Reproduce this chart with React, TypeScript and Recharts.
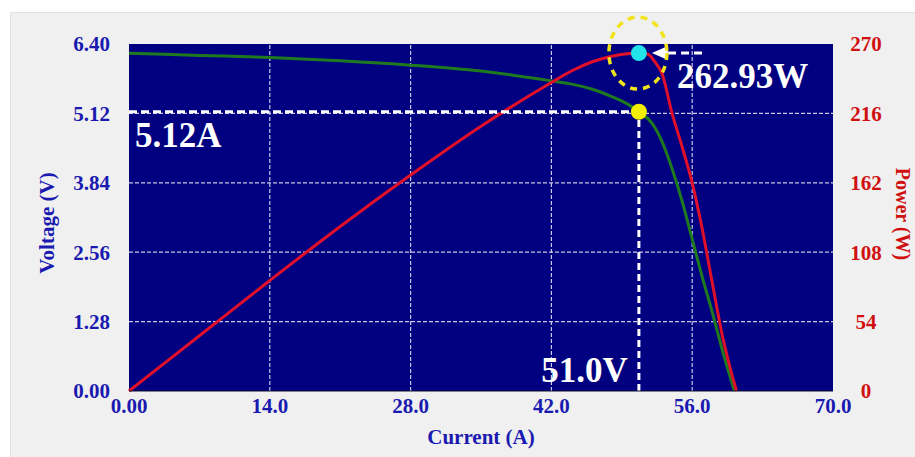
import React from "react";
import { LineChart, Line, XAxis, YAxis, CartesianGrid, ReferenceLine, ReferenceDot, Label } from "recharts";

// I-V curve (green)
const currentV = [0, 7, 14, 21, 28, 35, 42, 44, 46, 48, 49.5, 50.7, 52, 53, 54, 55, 56, 57, 58, 59, 60.2];
const voltage = [6.23, 6.19, 6.15, 6.09, 6.01, 5.9, 5.72, 5.66, 5.57, 5.43, 5.3, 5.15, 4.94, 4.6, 4.1, 3.5, 2.8, 2.1, 1.45, 0.75, 0];

// P-V curve (red)
const currentP = [0, 7, 14, 21, 28, 35, 42, 44, 46, 48, 49.5, 50.7, 51.6, 52.3, 53, 54, 55, 56, 57, 58, 59, 60.4];
const power = [0, 43, 86, 128, 168, 206, 240, 249, 256, 260.5, 262.4, 262.93, 262, 256, 247, 216, 190, 162, 126, 84, 43, 0];

const currentTicks = [0, 14, 28, 42, 56, 70];
const currentTickLabels = ["0.00", "14.0", "28.0", "42.0", "56.0", "70.0"];
const voltageTicks = [0, 1.28, 2.56, 3.84, 5.12, 6.4];
const voltageTickLabels = ["0.00", "1.28", "2.56", "3.84", "5.12", "6.40"];
const powerTicks = [0, 54, 108, 162, 216, 270];

const mppCurrent = 50.7;
const mppVoltage = 5.15;
const mppPower = 262.93;
const arrowTail = [53.6, 57.4];

const ivData = currentV.map((x, i) => ({ x, v: voltage[i] }));
const pvData = currentP.map((x, i) => ({ x, p: power[i] }));

const FONT = "'Liberation Serif', 'Times New Roman', serif";
const BLUE = "#1a1ab0";
const RED = "#d01010";
const NAVY = "#000080";
const GRID = "#c8c8e6";

const tickStyle = (fill: string) => ({ fill, fontSize: 21, fontWeight: 700, fontFamily: FONT });

function PowerTick(props: any) {
  const { x, y, payload } = props;
  return (
    <text x={x + 33} y={y} dy="0.355em" textAnchor="middle" fill={RED} fontSize={21} fontWeight={700} fontFamily={FONT}>
      {payload.value}
    </text>
  );
}

function BigText(text: string, dx: number, dy: number, anchor: string) {
  return (props: any) => (
    <text
      x={props.cx + dx}
      y={props.cy + dy}
      textAnchor={anchor}
      fill="#ffffff"
      fontSize={35}
      fontWeight={700}
      fontFamily={FONT}
    >
      {text}
    </text>
  );
}

function MppMarker(props: any) {
  const { cx, cy } = props;
  return (
    <g>
      <polygon points={`${cx + 13},${cy} ${cx + 29},${cy - 7} ${cx + 29},${cy + 7}`} fill="#ffffff" />
      <circle cx={cx} cy={cy} r={8} fill="#22e2ea" />
      <ellipse cx={cx - 1} cy={cy} rx={29} ry={36} fill="none" stroke="#f2e41c" strokeWidth={3.5} strokeDasharray="7 6" />
    </g>
  );
}

function YellowDot(props: any) {
  return <circle cx={props.cx} cy={props.cy} r={8} fill="#f2f000" />;
}

function AxisTitle(text: string, color: string, dx: number, dy: number, angle: number, size = 21) {
  return (props: any) => {
    const vb = props.viewBox;
    const x = vb.x + dx;
    const y = vb.y + dy;
    return (
      <text
        x={x}
        y={y}
        transform={`rotate(${angle} ${x} ${y})`}
        textAnchor="middle"
        dominantBaseline="central"
        fill={color}
        fontSize={size}
        fontWeight={700}
        fontFamily={FONT}
      >
        {text}
      </text>
    );
  };
}

export default function App() {
  return (
    <div style={{ position: "absolute", left: 0, top: 0, width: 915, height: 457, background: "#ffffff", overflow: "hidden" }}>
      <div
        style={{
          position: "absolute",
          left: 10,
          top: 12,
          right: 0,
          bottom: 0,
          background: "#f0f0f0",
          borderTop: "1px solid #e2e2e2",
          borderLeft: "1px solid #e2e2e2",
        }}
      />
      <div style={{ position: "absolute", left: 0, top: 0 }}>
        <LineChart width={915} height={457} margin={{ top: 44, right: 0, bottom: 6, left: 20 }}>
          <CartesianGrid fill={NAVY} horizontal={false} vertical={false} stroke="none" />
          <XAxis
            dataKey="x"
            type="number"
            domain={[0, 70]}
            ticks={currentTicks}
            tickFormatter={(v: number, i: number) => currentTickLabels[i]}
            interval={0}
            height={60}
            tickLine={false}
            tickSize={0}
            tickMargin={7}
            axisLine={{ stroke: "#101030" }}
            tick={tickStyle(BLUE)}
            allowDuplicatedCategory={false}
          >
            <Label content={AxisTitle("Current (A)", BLUE, 352, 46, 0)} />
          </XAxis>
          <YAxis
            yAxisId="v"
            type="number"
            domain={[0, 6.4]}
            ticks={voltageTicks}
            tickFormatter={(v: number, i: number) => voltageTickLabels[i]}
            interval={0}
            width={109}
            tickLine={false}
            tickSize={0}
            tickMargin={19}
            axisLine={false}
            tick={tickStyle(BLUE)}
          >
            <Label content={AxisTitle("Voltage (V)", BLUE, 27, 179, -90)} />
          </YAxis>
          <YAxis
            yAxisId="p"
            orientation="right"
            type="number"
            domain={[0, 270]}
            ticks={powerTicks}
            interval={0}
            width={82}
            tickLine={false}
            tickSize={0}
            tickMargin={0}
            axisLine={false}
            tick={PowerTick}
          >
            <Label content={AxisTitle("Power (W)", RED, 70, 170, 90, 20)} />
          </YAxis>

          {currentTicks.slice(1, -1).map((t) => (
            <ReferenceLine key={"gx" + t} x={t} yAxisId="v" stroke={GRID} strokeWidth={1.2} strokeDasharray="4 2" />
          ))}
          {voltageTicks.slice(1, -1).map((t) => (
            <ReferenceLine key={"gy" + t} y={t} yAxisId="v" stroke={GRID} strokeWidth={1.2} strokeDasharray="4 2" />
          ))}

          <Line data={ivData} yAxisId="v" type="monotone" dataKey="v" stroke="#1f7a1f" strokeWidth={3} dot={false} isAnimationActive={false} />
          <Line data={pvData} yAxisId="p" type="monotone" dataKey="p" stroke="#e0102a" strokeWidth={3} dot={false} isAnimationActive={false} />

          <ReferenceLine
            yAxisId="v"
            segment={[{ x: 0, y: mppVoltage }, { x: mppCurrent, y: mppVoltage }]}
            stroke="#ffffff"
            strokeWidth={3}
            strokeDasharray="8 4"
          />
          <ReferenceLine
            yAxisId="v"
            segment={[{ x: mppCurrent, y: 0 }, { x: mppCurrent, y: mppVoltage }]}
            stroke="#ffffff"
            strokeWidth={3}
            strokeDasharray="7 4"
          />
          <ReferenceLine
            yAxisId="p"
            segment={[{ x: arrowTail[0], y: mppPower }, { x: arrowTail[1], y: mppPower }]}
            stroke="#ffffff"
            strokeWidth={3}
            strokeDasharray="8 5"
            ifOverflow="visible"
          />
          <ReferenceDot yAxisId="v" x={mppCurrent} y={mppVoltage} r={8} shape={YellowDot} ifOverflow="visible" />
          <ReferenceDot yAxisId="p" x={mppCurrent} y={mppPower} r={8} shape={MppMarker} ifOverflow="visible" />

          <ReferenceDot yAxisId="v" x={0} y={mppVoltage} r={1} shape={BigText("5.12A", 6, 35, "start")} ifOverflow="visible" />
          <ReferenceDot yAxisId="v" x={mppCurrent} y={0} r={1} shape={BigText("51.0V", -11, -9, "end")} ifOverflow="visible" />
          <ReferenceDot yAxisId="p" x={mppCurrent} y={mppPower} r={1} shape={BigText("262.93W", 38, 35, "start")} ifOverflow="visible" />
        </LineChart>
      </div>
    </div>
  );
}
